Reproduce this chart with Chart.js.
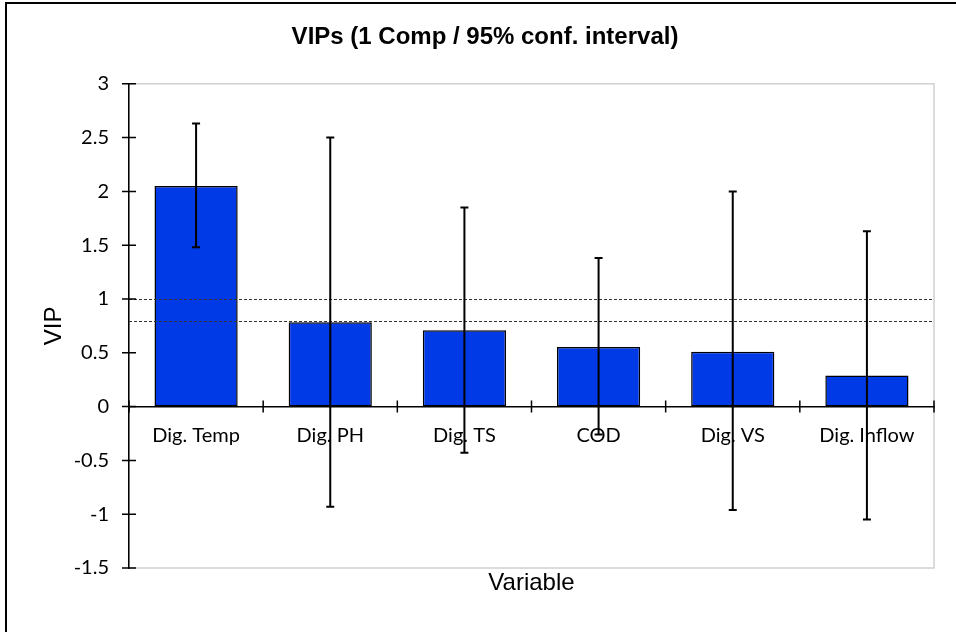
<!DOCTYPE html>
<html>
<head>
    <title>VIPs (1 Comp / 95% conf. interval)</title>
    <script src="https://cdn.jsdelivr.net/npm/chart.js"></script>
    <style>
        body { margin: 0; overflow: hidden; background: #fff; }
    </style>
</head>
<body>
    <canvas id="vipChart" width="956" height="632"></canvas>

    <script>
        // Chart values
        const variables = ['Dig. Temp', 'Dig. PH', 'Dig. TS', 'COD', 'Dig. VS', 'Dig. Inflow'];
        const vipValues = [2.05, 0.785, 0.71, 0.555, 0.51, 0.29];
        const ciLower = [1.48, -0.93, -0.43, -0.26, -0.96, -1.05];
        const ciUpper = [2.63, 2.50, 1.85, 1.38, 2.00, 1.63];
        const thresholdLines = [1, 0.8];
        const yMin = -1.5, yMax = 3, yStep = 0.5;

        const tickFont = { family: 'Lato', size: 20 };
        const titleFont = { family: 'Liberation Sans, Arial', size: 24 };

        // Extra drawing: frame, plot border, threshold lines, error bars, crossing tick marks
        const decor = {
            id: 'decor',
            beforeDraw(chart) {
                const { ctx, chartArea: a } = chart;
                ctx.save();
                ctx.strokeStyle = '#000';
                ctx.lineWidth = 2;
                ctx.beginPath();
                ctx.moveTo(6, chart.height);
                ctx.lineTo(6, 3);
                ctx.lineTo(chart.width, 3);
                ctx.stroke();
                ctx.strokeStyle = '#cfcfcf';
                ctx.lineWidth = 1.5;
                ctx.strokeRect(a.left, a.top, a.right - a.left, a.bottom - a.top);
                ctx.restore();
            },
            afterDatasetsDraw(chart) {
                const { ctx, chartArea: a } = chart;
                const y = chart.scales.y;
                const x = chart.scales.x;

                // threshold lines, over the bars
                ctx.save();
                ctx.strokeStyle = '#333';
                ctx.lineWidth = 1;
                ctx.setLineDash([3, 2]);
                thresholdLines.forEach(v => {
                    const py = Math.round(y.getPixelForValue(v)) + 0.5;
                    ctx.beginPath();
                    ctx.moveTo(a.left, py);
                    ctx.lineTo(a.right, py);
                    ctx.stroke();
                });
                ctx.restore();

                // confidence interval error bars
                const bars = chart.getDatasetMeta(0).data;
                ctx.save();
                ctx.strokeStyle = '#000';
                ctx.lineWidth = 2;
                ctx.beginPath();
                bars.forEach((bar, i) => {
                    const yLo = y.getPixelForValue(ciLower[i]);
                    const yHi = y.getPixelForValue(ciUpper[i]);
                    ctx.moveTo(bar.x, yLo);
                    ctx.lineTo(bar.x, yHi);
                    ctx.moveTo(bar.x - 4, yLo);
                    ctx.lineTo(bar.x + 4, yLo);
                    ctx.moveTo(bar.x - 4, yHi);
                    ctx.lineTo(bar.x + 4, yHi);
                });
                ctx.stroke();

                // tick marks crossing the axes
                const zero = y.getPixelForValue(0);
                ctx.lineWidth = 1.5;
                ctx.beginPath();
                y.ticks.forEach(t => {
                    const py = y.getPixelForValue(t.value);
                    ctx.moveTo(y.right - 7, py);
                    ctx.lineTo(y.right + 7, py);
                });
                for (let i = 0; i <= variables.length; i++) {
                    const px = x.getPixelForValue(i - 0.5);
                    ctx.moveTo(px, zero - 6);
                    ctx.lineTo(px, zero + 6);
                }
                ctx.stroke();
                ctx.restore();
            }
        };

        const ctx = document.getElementById('vipChart').getContext('2d');

        new Chart(ctx, {
            type: 'bar',
            data: {
                labels: variables,
                datasets: [{
                    label: 'VIP',
                    data: vipValues,
                    backgroundColor: '#0039e6',
                    borderColor: '#000',
                    borderWidth: 1.5,
                    borderSkipped: false,
                    categoryPercentage: 1,
                    barPercentage: 0.62
                }]
            },
            options: {
                responsive: false,
                animation: false,
                devicePixelRatio: 1,
                layout: {
                    padding: { left: 36, right: 22, top: 0, bottom: 0 }
                },
                plugins: {
                    legend: { display: false },
                    tooltip: { enabled: false },
                    title: {
                        display: true,
                        text: 'VIPs (1 Comp / 95% conf. interval)',
                        color: '#000',
                        font: { family: 'Liberation Sans, Arial', size: 24, weight: 'bold' },
                        padding: { top: 23, bottom: 32 }
                    }
                },
                scales: {
                    x: {
                        type: 'category',
                        position: { y: 0 },
                        offset: true,
                        grid: { display: false, drawTicks: false },
                        border: { display: true, color: '#000', width: 1.5 },
                        ticks: { color: '#000', font: tickFont, padding: 17 }
                    },
                    xb: {
                        type: 'category',
                        position: 'bottom',
                        grid: { display: false, drawTicks: false },
                        border: { display: false },
                        ticks: { display: false },
                        title: {
                            display: true,
                            text: 'Variable',
                            color: '#000',
                            font: titleFont,
                            padding: { top: 0, bottom: 34 }
                        },
                        afterFit(scale) { scale.height = 64; }
                    },
                    y: {
                        min: yMin,
                        max: yMax,
                        grid: { display: false, drawTicks: false },
                        border: { display: true, color: '#000', width: 1.5 },
                        ticks: {
                            stepSize: yStep,
                            color: '#000',
                            font: tickFont,
                            padding: 20,
                            callback: value => String(value)
                        },
                        title: {
                            display: true,
                            text: 'VIP',
                            color: '#000',
                            font: titleFont,
                            padding: { top: 4, bottom: 0 }
                        },
                        afterFit(scale) { scale.width = 93; }
                    }
                }
            },
            plugins: [decor]
        });
    </script>
</body>
</html>
